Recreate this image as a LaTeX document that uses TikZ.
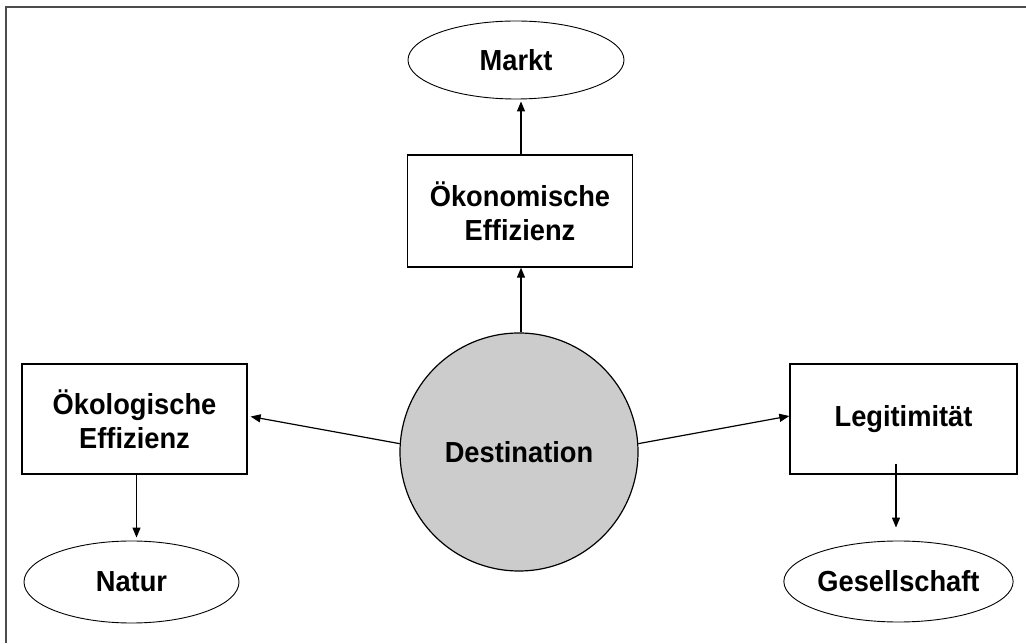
\documentclass[tikz,border=0pt]{standalone}
\usepackage{fontspec}
\setmainfont{Liberation Sans}[FakeStretch=0.94]
\usetikzlibrary{shapes.geometric,arrows.meta,calc}
\tikzset{
  lbl/.style={font=\fontsize{29}{34}\selectfont\bfseries, align=center, inner sep=0pt},
  ell/.style={lbl, draw, ellipse, line width=0.9pt},
  boxn/.style={lbl, draw, rectangle, line width=1.3pt},
  conn/.style={line width=1.2pt, -{Triangle[length=10pt,width=8pt]}},
  frameline/.style={draw=black!70, line width=2pt}
}
\begin{document}
\begin{tikzpicture}[x=1pt,y=1pt]
\useasboundingbox (0,0) rectangle (1026,643);
\draw[frameline] (6,0) -- (6,636) -- (1026,636);

\node[ell, minimum width=216pt, minimum height=78pt] (markt) at (516,583) {Markt};
\node[boxn, minimum width=225pt, minimum height=112pt] (oeko) at (520,432) {Ökonomische\\Effizienz};
\node[lbl, draw, circle, fill=black!20, line width=1.2pt, minimum size=238pt] (dest) at (519,191) {Destination};
\node[boxn, minimum width=225pt, minimum height=110pt] (oekol) at (134.5,224) {Ökologische\\Effizienz};
\node[ell, minimum width=215pt, minimum height=82pt] (natur) at (131.5,61) {Natur};
\node[boxn, minimum width=227pt, minimum height=110pt] (legit) at (903.5,224) {Legitimität};
\node[ell, minimum width=213pt, minimum height=81pt] (ges) at (898.5,61.5) {Gesellschaft};

\coordinate (ds) at ($(dest.north)+(2,0)$);
\coordinate (os) at ($(oeko.north)+(1,0)$);
\coordinate (ks) at ($(oekol.south)+(2,0)$);
\coordinate (ls) at ($(legit.south)+(-7.5,11)$);
\coordinate (kw) at ($(oekol.east)+(0,3)$);
\coordinate (lw) at ($(legit.west)+(0,3)$);

\draw[conn] (ds) -- (ds |- oeko.south);
\draw[conn, shorten >=2pt] (os) -- (os |- markt.south);
\draw[conn, shorten >=3pt] (dest.176) -- (kw);
\draw[conn] (dest.4) -- (lw);
\draw[conn, shorten >=3pt] (ks) -- (ks |- natur.north);
\draw[conn, shorten >=13pt] (ls) -- (ls |- ges.north);
\end{tikzpicture}
\end{document}
